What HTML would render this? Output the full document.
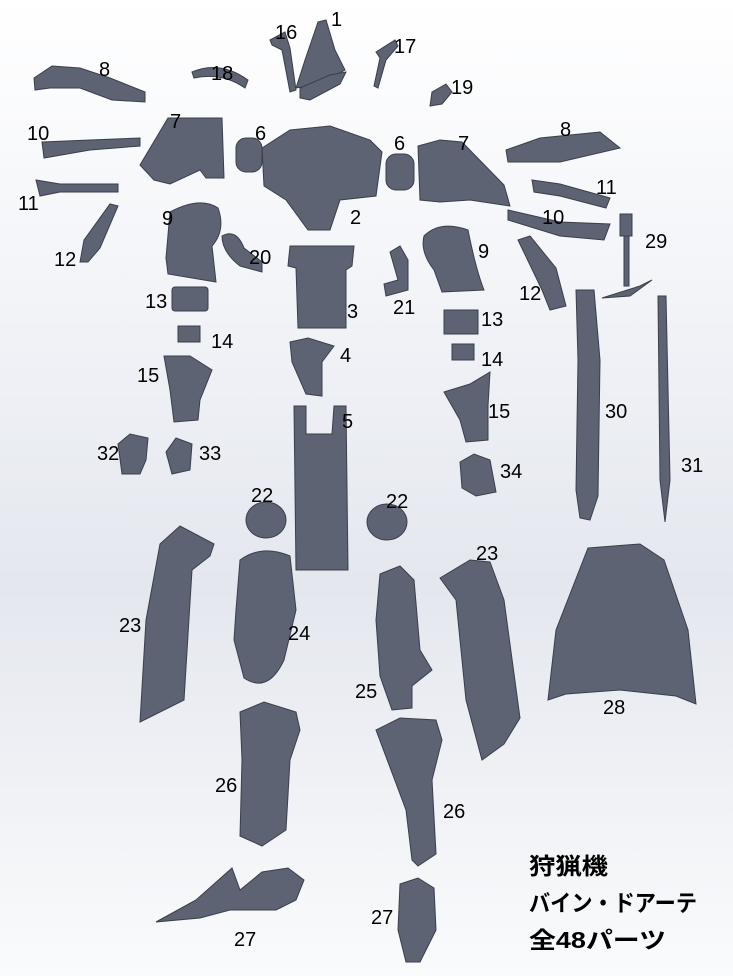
<!DOCTYPE html>
<html><head><meta charset="utf-8"><style>
html,body{margin:0;padding:0}
body{width:733px;height:976px;overflow:hidden}
svg{display:block}
.n{font-family:"Liberation Sans",sans-serif;font-size:20px;fill:#000}
.t{font-family:"Liberation Sans","Noto Sans CJK JP",sans-serif;font-size:23px;font-weight:bold;fill:#000}
.p{fill:#5d6373;stroke:#3a3f4a;stroke-width:1}
</style></head><body>
<svg width="733" height="976" viewBox="0 0 733 976">
<defs><linearGradient id="bg" x1="0" y1="0" x2="0" y2="1">
<stop offset="0" stop-color="#ffffff"/><stop offset="0.3" stop-color="#f2f4f8"/><stop offset="0.6" stop-color="#e4e7ee"/><stop offset="1" stop-color="#fafbfc"/></linearGradient></defs>
<rect width="733" height="976" fill="url(#bg)"/>
<path class="p" d="M318,22 L326,20 L335,50 L345,70 L320,84 L296,88 L305,60Z"/>
<path class="p" d="M300,88 L330,75 L346,72 L340,84 L310,100 L300,98Z"/>
<path class="p" d="M270,40 L285,32 L290,48 L296,90 L290,92 L282,50 L272,45Z"/>
<path class="p" d="M376,52 L395,40 L398,46 L386,60 L378,88 L374,86 L380,58Z"/>
<path class="p" d="M34,78 L52,66 L80,68 L110,78 L145,92 L145,102 L112,100 L80,88 L50,88 L35,90Z"/>
<path class="p" d="M192,72 Q220,60 248,80 L245,88 Q222,72 194,78Z"/>
<path class="p" d="M432,92 L446,84 L452,92 L442,104 L430,106Z"/>
<path class="p" d="M42,142 L90,140 L140,138 L140,146 L90,150 L44,158Z"/>
<path class="p" d="M140,165 L168,118 L202,118 L222,118 L224,178 L206,178 L200,170 L170,184 L154,180Z"/>
<rect class="p" x="236" y="138" width="26" height="34" rx="10"/>
<rect class="p" x="386" y="154" width="28" height="36" rx="10"/>
<path class="p" d="M262,148 L290,130 L330,126 L370,140 L382,152 L376,196 L340,200 L330,230 L308,230 L286,200 L264,186Z"/>
<path class="p" d="M418,146 L440,140 L462,142 L504,185 L510,206 L470,200 L440,202 L420,200Z"/>
<path class="p" d="M506,150 L540,138 L600,132 L620,148 L560,162 L508,162Z"/>
<path class="p" d="M36,180 L48,182 L60,184 L118,184 L118,192 L60,192 L40,196Z"/>
<path class="p" d="M532,180 L560,184 L610,198 L606,208 L560,196 L534,192Z"/>
<path class="p" d="M508,210 L560,222 L610,224 L604,240 L560,236 L508,220Z"/>
<path class="p" d="M84,240 L110,204 L118,206 L100,248 L88,262 L80,262Z"/>
<path class="p" d="M170,212 Q200,196 218,208 Q226,230 212,246 L216,282 L168,274 L166,258Z"/>
<path class="p" d="M222,236 Q236,228 244,248 L262,262 L262,272 L240,266 Q222,252 222,236Z"/>
<path class="p" d="M290,246 L354,246 L352,266 L346,270 L346,328 L298,328 L296,268 L288,266Z"/>
<path class="p" d="M424,236 Q440,220 468,230 Q476,270 484,290 L442,292 L434,270 Q420,252 424,236Z"/>
<path class="p" d="M390,252 L400,246 L408,260 L408,290 L386,296 L384,284 L398,280Z"/>
<path class="p" d="M518,240 L530,236 L556,268 L566,306 L550,310 L542,290Z"/>
<rect class="p" x="620" y="214" width="12" height="22"/>
<rect class="p" x="624" y="236" width="5" height="50"/>
<path class="p" d="M602,298 L640,286 L652,280 L630,296Z"/>
<rect class="p" x="172" y="287" width="36" height="24" rx="3"/>
<rect class="p" x="178" y="326" width="22" height="16"/>
<rect class="p" x="444" y="310" width="34" height="24"/>
<rect class="p" x="452" y="344" width="22" height="16"/>
<path class="p" d="M290,342 L308,338 L334,346 L322,362 L322,396 L306,394 L292,362Z"/>
<path class="p" d="M164,356 L190,356 L212,370 L200,400 L198,420 L174,422 L170,390Z"/>
<path class="p" d="M444,392 L470,384 L490,372 L488,406 L488,440 L466,442 L460,420Z"/>
<path class="p" d="M576,290 L594,290 L600,360 L598,496 L590,520 L580,518 L576,490 L578,360Z"/>
<path class="p" d="M658,296 L666,296 L670,480 L665,522 L660,480Z"/>
<path class="p" d="M294,406 L306,406 L306,434 L332,434 L334,406 L346,406 L348,570 L296,570Z"/>
<path class="p" d="M118,444 L130,434 L148,438 L146,460 L140,474 L122,474Z"/>
<path class="p" d="M166,452 L176,438 L192,444 L190,470 L172,474Z"/>
<path class="p" d="M460,462 L474,454 L490,460 L496,492 L476,496 L462,488Z"/>
<ellipse class="p" cx="266" cy="520" rx="20" ry="18"/>
<ellipse class="p" cx="387" cy="522" rx="20" ry="18"/>
<path class="p" d="M160,544 L180,526 L214,544 L210,556 L192,570 L184,700 L140,722 L146,620Z"/>
<path class="p" d="M240,560 Q262,544 290,556 L296,610 L284,660 Q268,694 244,678 L234,640 L236,610Z"/>
<path class="p" d="M380,574 L400,566 L414,580 L420,650 L432,670 L412,686 L412,708 L392,710 L380,676 L376,620Z"/>
<path class="p" d="M440,578 L470,560 L490,562 L504,600 L520,718 L504,744 L482,760 L466,700 L456,600Z"/>
<path class="p" d="M588,548 L640,544 L664,560 L688,630 L696,704 L676,696 L620,690 L566,694 L548,700 L556,630Z"/>
<path class="p" d="M240,712 L264,702 L296,712 L300,730 L290,760 L286,830 L262,846 L240,836 L242,760Z"/>
<path class="p" d="M376,730 L400,718 L436,720 L442,740 L432,780 L436,854 L418,866 L412,860 L406,810Z"/>
<path class="p" d="M156,922 L196,900 L232,868 L240,890 L262,872 L288,868 L304,880 L296,900 L276,910 L230,910 L200,918Z"/>
<path class="p" d="M400,884 L418,878 L434,888 L436,930 L420,962 L406,962 L398,930Z"/>
<text class="n" x="331" y="26">1</text>
<text class="n" x="275" y="39">16</text>
<text class="n" x="394" y="53">17</text>
<text class="n" x="99" y="76">8</text>
<text class="n" x="211" y="80">18</text>
<text class="n" x="451" y="94">19</text>
<text class="n" x="27" y="140">10</text>
<text class="n" x="170" y="128">7</text>
<text class="n" x="255" y="140">6</text>
<text class="n" x="394" y="150">6</text>
<text class="n" x="458" y="150">7</text>
<text class="n" x="560" y="136">8</text>
<text class="n" x="18" y="210">11</text>
<text class="n" x="596" y="194">11</text>
<text class="n" x="542" y="224">10</text>
<text class="n" x="162" y="225">9</text>
<text class="n" x="350" y="224">2</text>
<text class="n" x="478" y="258">9</text>
<text class="n" x="645" y="248">29</text>
<text class="n" x="54" y="266">12</text>
<text class="n" x="249" y="264">20</text>
<text class="n" x="393" y="314">21</text>
<text class="n" x="519" y="300">12</text>
<text class="n" x="145" y="308">13</text>
<text class="n" x="347" y="318">3</text>
<text class="n" x="481" y="326">13</text>
<text class="n" x="211" y="348">14</text>
<text class="n" x="340" y="362">4</text>
<text class="n" x="481" y="366">14</text>
<text class="n" x="137" y="382">15</text>
<text class="n" x="488" y="418">15</text>
<text class="n" x="605" y="418">30</text>
<text class="n" x="342" y="428">5</text>
<text class="n" x="97" y="460">32</text>
<text class="n" x="199" y="460">33</text>
<text class="n" x="500" y="478">34</text>
<text class="n" x="681" y="472">31</text>
<text class="n" x="251" y="502">22</text>
<text class="n" x="386" y="508">22</text>
<text class="n" x="476" y="560">23</text>
<text class="n" x="119" y="632">23</text>
<text class="n" x="288" y="640">24</text>
<text class="n" x="355" y="698">25</text>
<text class="n" x="603" y="714">28</text>
<text class="n" x="215" y="792">26</text>
<text class="n" x="443" y="818">26</text>
<text class="n" x="234" y="946">27</text>
<text class="n" x="371" y="924">27</text>
<text class="t" x="529" y="874" textLength="79" lengthAdjust="spacingAndGlyphs">狩猟機</text>
<text class="t" x="529" y="911" textLength="168" lengthAdjust="spacingAndGlyphs">バイン・ドアーテ</text>
<text class="t" x="529" y="948" textLength="137" lengthAdjust="spacingAndGlyphs">全48パーツ</text>
</svg>
</body></html>
